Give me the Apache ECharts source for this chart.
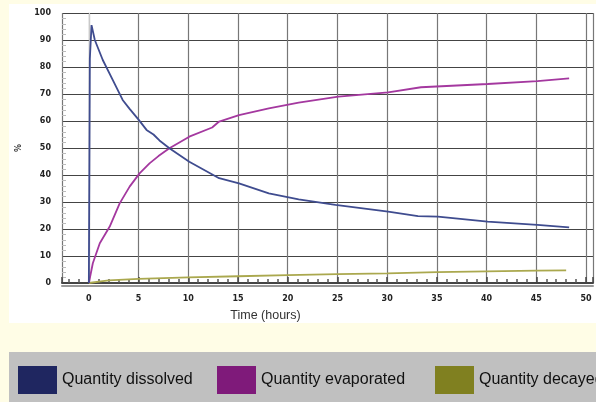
<!DOCTYPE html>
<html>
<head>
<meta charset="utf-8">
<script src="https://cdn.jsdelivr.net/npm/echarts@6/dist/echarts.min.js"></script>
<style>
html,body{margin:0;padding:0;background:#fffde6;}
#chart{width:596px;height:402px;}
</style>
</head>
<body>
<div id="chart"></div>
<script>
// ---- data ----
const seriesNames = ['Quantity dissolved', 'Quantity evaporated', 'Quantity decayed'];

const dissolvedT = [0, 0.05, 0.1, 0.27, 0.6, 1.4, 2.4, 3.4, 4.1, 5, 5.8, 6.5, 7.1, 8.1, 10.1, 13.1, 15.1, 18.1, 21.1, 24.8, 30.1, 33.1, 35.1, 40.1, 45.1, 48.3];
const dissolvedV = [0, 40, 83, 95.5, 90, 82.6, 75.2, 67.8, 64.5, 60.5, 56.7, 55, 52.8, 49.9, 44.9, 38.8, 36.9, 33.2, 31, 28.9, 26.4, 24.8, 24.6, 22.7, 21.5, 20.6];

const evaporatedT = [0, 0.4, 1.1, 2.1, 3.1, 4.1, 5.1, 6.1, 7, 8.1, 10.1, 12.4, 13.1, 15.1, 18.1, 21.1, 25.1, 30.1, 33.4, 40.1, 45.1, 48.3];
const evaporatedV = [0, 7.3, 14.7, 20.9, 29.5, 35.7, 40.6, 44.3, 47, 49.9, 54.2, 57.6, 59.8, 62.2, 64.7, 66.8, 69, 70.6, 72.5, 73.7, 74.8, 75.8];

const decayedT = [0, 1, 2, 5, 10, 15, 20, 25, 30, 35, 40, 45, 48];
const decayedV = [0, 0.5, 1, 1.5, 2.1, 2.5, 2.9, 3.3, 3.6, 4.0, 4.3, 4.6, 4.7];

const xTickLabels = [0, 5, 10, 15, 20, 25, 30, 35, 40, 45, 50];
const yTickLabels = [0, 10, 20, 30, 40, 50, 60, 70, 80, 90, 100];

// ---- styling ----
const lineColors = ['#3f4c8f', '#a4389f', '#aaa84e'];
const legendColors = ['#1f2660', '#7f1a7a', '#808020'];
const legendLefts = [18, 217, 435];
const narrowFont = "'Liberation Sans', Arial, sans-serif";

function pairs(t, v) { return t.map((x, i) => [x, v[i]]); }
const seriesData = [pairs(dissolvedT, dissolvedV), pairs(evaporatedT, evaporatedV), pairs(decayedT, decayedV)];

const chart = echarts.init(document.getElementById('chart'), null, {renderer: 'canvas'});

const tickFont = {fontFamily: 'DejaVu Sans', fontWeight: 'bold', fontSize: 8, color: '#222'};

const option = {
  backgroundColor: '#fffde6',
  animation: false,
  graphic: [
    {type: 'rect', z: -10, silent: true, shape: {x: 9, y: 4, width: 600, height: 319}, style: {fill: '#ffffff'}},
    {type: 'rect', z: -10, silent: true, shape: {x: 9, y: 352, width: 600, height: 60}, style: {fill: '#c0c0c0'}}
  ],
  grid: {left: 62, right: 0, top: 13, bottom: 119, containLabel: false},
  legend: seriesNames.map((n, i) => ({
    left: legendLefts[i], top: 366, padding: 0,
    icon: 'rect', itemWidth: 39, itemHeight: 28, itemGap: 5,
    selectedMode: false,
    data: [{name: n, itemStyle: {color: legendColors[i]}}],
    textStyle: {fontFamily: narrowFont, fontSize: 16, color: '#111'}
  })),
  xAxis: [{
    type: 'value', min: -2.7, max: 50.7, minInterval: 5, maxInterval: 5, splitNumber: 10,
    name: 'Time (hours)', nameLocation: 'middle', nameGap: 26,
    nameTextStyle: {fontFamily: narrowFont, fontSize: 12.5, color: '#333', padding: [0, 124, 0, 0]},
    axisLine: {show: true, lineStyle: {color: '#444', width: 2, shadowColor: '#999', shadowOffsetY: 3, shadowBlur: 0}},
    axisTick: {show: true, inside: true, length: 6, lineStyle: {color: '#444', width: 1.5}},
    minorTick: {show: true, splitNumber: 5, length: 4, lineStyle: {color: '#555', width: 1.5}},
    axisLabel: Object.assign({interval: 0, margin: 12,
      formatter: v => (xTickLabels.indexOf(v) >= 0 ? String(v) : '')}, tickFont),
    splitLine: {show: true, lineStyle: {color: '#777', width: 1.2}}
  }],
  yAxis: [{
    type: 'value', min: 0, max: 100, interval: 10,
    name: '%', nameLocation: 'middle', nameGap: 38, nameRotate: 90,
    nameTextStyle: {fontFamily: 'DejaVu Sans', fontWeight: 'bold', fontSize: 8, color: '#333'},
    axisLine: {show: true, lineStyle: {color: '#e4e4e4', width: 1.5}},
    axisTick: {show: true, inside: false, length: 6, lineStyle: {color: '#444'}},
    axisLabel: Object.assign({margin: 11,
      formatter: v => (yTickLabels.indexOf(v) >= 0 ? String(v) : '')}, tickFont),
    splitLine: {show: true, lineStyle: {color: '#444', width: 1.2}}
  }, {
    type: 'value', min: 0, max: 100, interval: 10, position: 'left',
    axisLine: {show: false},
    axisTick: {show: false, inside: true},
    axisLabel: {show: false},
    splitLine: {show: false},
    minorTick: {show: true, splitNumber: 5, length: 4, lineStyle: {color: '#bbb'}}
  }],
  series: seriesNames.map((n, i) => ({
    name: n, type: 'line', data: seriesData[i], showSymbol: false, symbol: 'none',
    itemStyle: {color: legendColors[i]},
    lineStyle: {color: lineColors[i], width: 1.8},
    z: 3 - i
  }))
};
chart.setOption(option);
</script>
</body>
</html>
